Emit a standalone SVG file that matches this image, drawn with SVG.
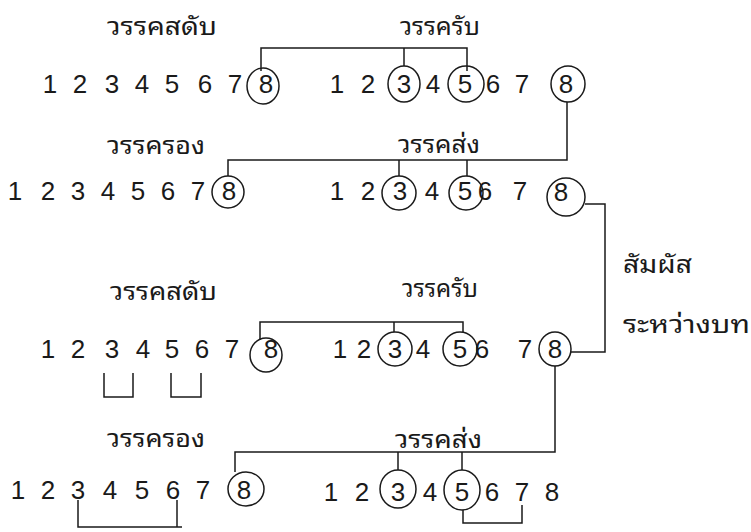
<svg xmlns="http://www.w3.org/2000/svg" width="751" height="532" viewBox="0 0 751 532">
<style>
.d{font-family:"Liberation Sans",Arial,sans-serif;font-size:26px;fill:#1a1a1a;text-anchor:middle}
.t{font-family:"Noto Sans Thai Looped","Loma","Garuda","Noto Sans Thai","Noto Sans","DejaVu Sans",sans-serif;font-size:24px;fill:#1a1a1a}
.c{fill:none;stroke:#1a1a1a;stroke-width:1.5}
.l{fill:none;stroke:#1a1a1a;stroke-width:1.5}
</style>
<rect width="751" height="532" fill="#ffffff"/>

<g id="labels">
<text class="t" x="107" y="35" textLength="110" lengthAdjust="spacingAndGlyphs">วรรคสดับ</text>
<text class="t" x="400" y="35" textLength="80" lengthAdjust="spacingAndGlyphs">วรรครับ</text>
<text class="t" x="107" y="154" textLength="98" lengthAdjust="spacingAndGlyphs">วรรครอง</text>
<text class="t" x="398" y="153" textLength="82" lengthAdjust="spacingAndGlyphs">วรรคส่ง</text>
<text class="t" x="110" y="300" textLength="107" lengthAdjust="spacingAndGlyphs">วรรคสดับ</text>
<text class="t" x="402" y="297" textLength="76" lengthAdjust="spacingAndGlyphs">วรรครับ</text>
<text class="t" x="107" y="447" textLength="98" lengthAdjust="spacingAndGlyphs">วรรครอง</text>
<text class="t" x="395" y="448" textLength="87" lengthAdjust="spacingAndGlyphs">วรรคส่ง</text>
<text class="t" x="623" y="273" textLength="69" lengthAdjust="spacingAndGlyphs">สัมผัส</text>
<text class="t" x="623" y="333" textLength="127" lengthAdjust="spacingAndGlyphs">ระหว่างบท</text>
</g>

<g id="verse1-sadap">
<text class="d" x="50" y="93">1</text><text class="d" x="80" y="93">2</text><text class="d" x="112" y="93">3</text><text class="d" x="142" y="93">4</text><text class="d" x="172" y="93">5</text><text class="d" x="205" y="93">6</text><text class="d" x="235" y="93">7</text><text class="d" x="266" y="93">8</text>
<ellipse class="c" cx="263" cy="86" rx="16" ry="18"/>
</g>
<g id="verse1-rap">
<text class="d" x="337" y="93">1</text><text class="d" x="368" y="93">2</text><text class="d" x="404" y="93">3</text><text class="d" x="433" y="93">4</text><text class="d" x="465" y="93">5</text><text class="d" x="493" y="93">6</text><text class="d" x="522" y="93">7</text><text class="d" x="566" y="93">8</text>
<ellipse class="c" cx="404" cy="84" rx="16" ry="18"/>
<ellipse class="c" cx="466" cy="84" rx="18" ry="18"/>
<ellipse class="c" cx="568" cy="84" rx="17" ry="18"/>
</g>

<g id="verse2-rong">
<text class="d" x="15" y="200">1</text><text class="d" x="48" y="200">2</text><text class="d" x="78" y="200">3</text><text class="d" x="108" y="200">4</text><text class="d" x="138" y="200">5</text><text class="d" x="168" y="200">6</text><text class="d" x="198" y="200">7</text><text class="d" x="229" y="200">8</text>
<ellipse class="c" cx="228" cy="192" rx="16" ry="16"/>
</g>
<g id="verse2-song">
<text class="d" x="337" y="200">1</text><text class="d" x="368" y="200">2</text><text class="d" x="400" y="200">3</text><text class="d" x="432" y="200">4</text><text class="d" x="465" y="200">5</text><text class="d" x="485" y="200">6</text><text class="d" x="520" y="200">7</text><text class="d" x="561" y="201">8</text>
<ellipse class="c" cx="566" cy="197" rx="19" ry="19"/>
<ellipse class="c" cx="399" cy="193" rx="17" ry="17"/>
<ellipse class="c" cx="466" cy="193" rx="17" ry="17"/>
</g>

<g id="verse3-sadap">
<text class="d" x="48" y="358">1</text><text class="d" x="78" y="358">2</text><text class="d" x="112" y="358">3</text><text class="d" x="143" y="358">4</text><text class="d" x="172" y="358">5</text><text class="d" x="202" y="358">6</text><text class="d" x="232" y="358">7</text><text class="d" x="271" y="358">8</text>
<ellipse class="c" cx="266" cy="355" rx="16" ry="17"/>
</g>
<g id="verse3-rap">
<text class="d" x="340" y="358">1</text><text class="d" x="364" y="358">2</text><text class="d" x="395" y="358">3</text><text class="d" x="423" y="358">4</text><text class="d" x="460" y="358">5</text><text class="d" x="482" y="358">6</text><text class="d" x="525" y="358">7</text><text class="d" x="555" y="358">8</text>
<ellipse class="c" cx="395" cy="349" rx="17" ry="17"/>
<ellipse class="c" cx="460" cy="349" rx="17" ry="17"/>
<ellipse class="c" cx="555" cy="349" rx="16" ry="17"/>
</g>

<g id="verse4-rong">
<text class="d" x="18" y="499">1</text><text class="d" x="48" y="499">2</text><text class="d" x="78" y="499">3</text><text class="d" x="110" y="499">4</text><text class="d" x="142" y="499">5</text><text class="d" x="173" y="499">6</text><text class="d" x="203" y="499">7</text><text class="d" x="244" y="499">8</text>
<ellipse class="c" cx="246" cy="489" rx="18" ry="17"/>
</g>
<g id="verse4-song">
<text class="d" x="331" y="501">1</text><text class="d" x="362" y="501">2</text><text class="d" x="398" y="501">3</text><text class="d" x="430" y="501">4</text><text class="d" x="462" y="501">5</text><text class="d" x="492" y="501">6</text><text class="d" x="522" y="501">7</text><text class="d" x="552" y="501">8</text>
<ellipse class="c" cx="398" cy="489" rx="18" ry="19"/>
<ellipse class="c" cx="462" cy="490" rx="18" ry="20"/>
</g>

<g id="connectors">
<polyline class="l" points="261,71 261,48 467,48 467,71"/>
<line class="l" x1="404" y1="48" x2="404" y2="66"/>
<polyline class="l" points="228,176 228,160 567,160 567,102"/>
<line class="l" x1="399" y1="160" x2="399" y2="176"/>
<line class="l" x1="467" y1="160" x2="467" y2="176"/>
<polyline class="l" points="585,204 605,204 605,352 571,352"/>
<polyline class="l" points="260,340 260,322 463,322 463,332"/>
<line class="l" x1="394" y1="322" x2="394" y2="332"/>
<polyline class="l" points="104,373 104,397 133,397 133,373"/>
<polyline class="l" points="171,373 171,397 201,397 201,373"/>
<polyline class="l" points="235,472 235,452 555,452 555,366"/>
<line class="l" x1="398" y1="452" x2="398" y2="470"/>
<line class="l" x1="462" y1="452" x2="462" y2="470"/>
<polyline class="l" points="78,500 78,527 182,527"/>
<line class="l" x1="177" y1="500" x2="177" y2="527"/>
<polyline class="l" points="463,510 463,523 522,523 522,505"/>
</g>
</svg>
